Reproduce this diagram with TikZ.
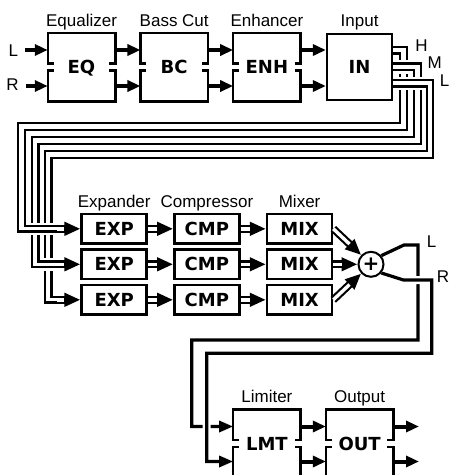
\documentclass[tikz,border=0pt]{standalone}
\usepackage{fontspec}
\setmainfont{Liberation Sans}
\newfontfamily\tagfont{DejaVu Sans}
\usetikzlibrary{arrows.meta,calc}

\tikzset{
  boxline/.style={line width=2.5pt},
  lbl/.style={font=\fontsize{17}{19}\selectfont, inner sep=0pt, text height=12pt, text depth=0pt},
  tag/.style={font=\tagfont\bfseries\fontsize{18}{20}\selectfont, inner sep=0pt, text height=13pt, text depth=0pt},
  sbox/.style={tag, outer sep=1.25pt, minimum width=65pt, minimum height=66pt},
  inbox/.style={sbox, draw, boxline},
  mbox/.style={tag, draw, boxline, minimum width=65pt, minimum height=29.5pt},
  sumnode/.style={circle, draw, line width=2pt, fill=white, minimum size=25pt, inner sep=0pt,
    font=\tagfont\bfseries\fontsize{20}{20}\selectfont},
  sig/.style={line width=4pt, -{Triangle[length=13pt,width=11pt]}},
  dbl/.style={line width=7.7pt, -{Triangle[length=16pt,width=13pt]},
    postaction={draw=white, line width=3.4pt, -, shorten >=16pt}},
  wire/.style={line width=2.3pt, preaction={draw=white, line width=7pt, shorten <=2pt}},
  lr/.style={line width=3.2pt, -{Triangle[length=14pt,width=11pt]}},
  over/.style={preaction={draw=white, line width=8pt, -, shorten <=4pt, shorten >=14pt}},
}

\newcommand{\splitbox}[1]{%
  \draw[boxline] ($(#1.west)+(6,-3.3)$) -- ++(-6,0) |- (#1.north east) -- ($(#1.east)+(0,-3.3)$) -- ++(-6,0);
  \draw[boxline] ($(#1.west)+(6,3.3)$) -- ++(-6,0) |- (#1.south east) -- ($(#1.east)+(0,3.3)$) -- ++(-6,0);}

\begin{document}
\begin{tikzpicture}[x=1pt,y=-1pt]
  \useasboundingbox (0,0) rectangle (449,475);
  \coordinate (tl) at (0,50);
  \coordinate (tr) at (0,86);
  \coordinate (bl) at (0,426.5);
  \coordinate (br) at (0,461.5);
  \coordinate (e1) at (57,228.8);
  \coordinate (e2) at (57,264.3);
  \coordinate (e3) at (57,299.8);
  \coordinate (outl) at (419,426.5);
  \coordinate (outr) at (419,461.5);

  % input stage
  \node[sbox] (eq) at (81.5,67) {EQ};
  \node[sbox] (bc) at (174.2,67) {BC};
  \node[sbox] (enh) at (266.9,67) {ENH};
  \node[inbox] (in) at (359.6,67) {IN};
  \splitbox{eq} \splitbox{bc} \splitbox{enh}
  \node[lbl] (eqlbl) at (81.5,20.7) {Equalizer};
  \node[lbl] (bclbl) at (174.2,20.7) {Bass Cut};
  \node[lbl] (enhlbl) at (266.9,20.7) {Enhancer};
  \node[lbl] (inlbl) at (359.6,20.7) {Input};
  \node[lbl] (inl) at (13.3,50) {L};
  \node[lbl] (inr) at (12.5,84) {R};
  \draw[sig, shorten <=7pt] (inl.east |- tl) -- (eq.west |- tl);
  \draw[sig, shorten <=7pt] (inr.east |- tr) -- (eq.west |- tr);
  \foreach \a/\b in {eq/bc, bc/enh, enh/in} {
    \draw[sig] (\a.east |- tl) -- (\b.west |- tl);
    \draw[sig] (\a.east |- tr) -- (\b.west |- tr);
  }
  \node[lbl] (hlbl) at (421.5,45.5) {H};
  \node[lbl] (mlbl) at (434.7,62.2) {M};
  \node[lbl] (llbl) at (444.5,80.3) {L};

  % band stage
  \foreach \i/\y in {1/228.8, 2/264.3, 3/299.8} {
    \node[mbox] (exp\i) at (114.2,\y) {EXP};
    \node[mbox] (cmp\i) at (206.9,\y) {CMP};
    \node[mbox] (mix\i) at (299.6,\y) {MIX};
  }
  \node[lbl] (explbl) at (114.2,201.7) {Expander};
  \node[lbl] (cmplbl) at (206.9,201.7) {Compressor};
  \node[lbl] (mixlbl) at (299.6,201.7) {Mixer};
  \node[sumnode] (sum) at (371,264.3) {+};

  \draw[wire] (in.east |- 0,47) -| (407,130) -- (220,130);
  \draw[wire] (in.east |- 0,53.5) -| (400,123) -- (220,123);
  \draw[wire] (in.east |- 0,63.5) -| (421,144) -- (220,144);
  \draw[wire] (in.east |- 0,70) -| (414,137) -- (220,137);
  \draw[wire] (in.east |- 0,80) -| (433,158) -- (220,158);
  \draw[wire] (in.east |- 0,86.5) -| (427,151) -- (220,151);
  \draw[wire] (220,158) -| (51.5,297.1) -- (60,297.1);
  \draw[wire] (220,151) -| (45,302.5) -- (60,302.5);
  \draw[wire] (220,144) -| (38.5,261.6) -- (60,261.6);
  \draw[wire] (220,137) -| (32,267) -- (60,267);
  \draw[wire] (220,130) -| (25,226.1) -- (60,226.1);
  \draw[wire] (220,123) -| (18,231.5) -- (60,231.5);

  \foreach \i in {1,2,3} {
    \draw[dbl] (e\i) -- (exp\i.west);
    \draw[dbl] (exp\i.east) -- (cmp\i.west);
    \draw[dbl] (cmp\i.east) -- (mix\i.west);
    \draw[dbl] (mix\i.east) -- (sum);
  }
  \node[lbl] (suml) at (431.7,241.7) {L};
  \node[lbl] (sumr) at (443,276.7) {R};

  % output stage
  \node[sbox] (lmt) at (266.9,443.5) {LMT};
  \node[sbox] (out) at (359.6,443.5) {OUT};
  \splitbox{lmt} \splitbox{out}
  \node[lbl] (lmtlbl) at (266.9,396.7) {Limiter};
  \node[lbl] (outlbl) at (359.6,396.7) {Output};
  \draw[lr] (sum.40) -- (404,245) -| (418,340) -| (191.7,426.5) -- (lmt.west |- bl);
  \draw[lr, over] (sum.-40) -- (403.5,280) -| (431.7,353.3) -| (206.7,461.5) -- (lmt.west |- br);
  \draw[sig] (lmt.east |- bl) -- (out.west |- bl);
  \draw[sig] (lmt.east |- br) -- (out.west |- br);
  \draw[sig] (out.east |- bl) -- (outl);
  \draw[sig] (out.east |- br) -- (outr);
\end{tikzpicture}
\end{document}
